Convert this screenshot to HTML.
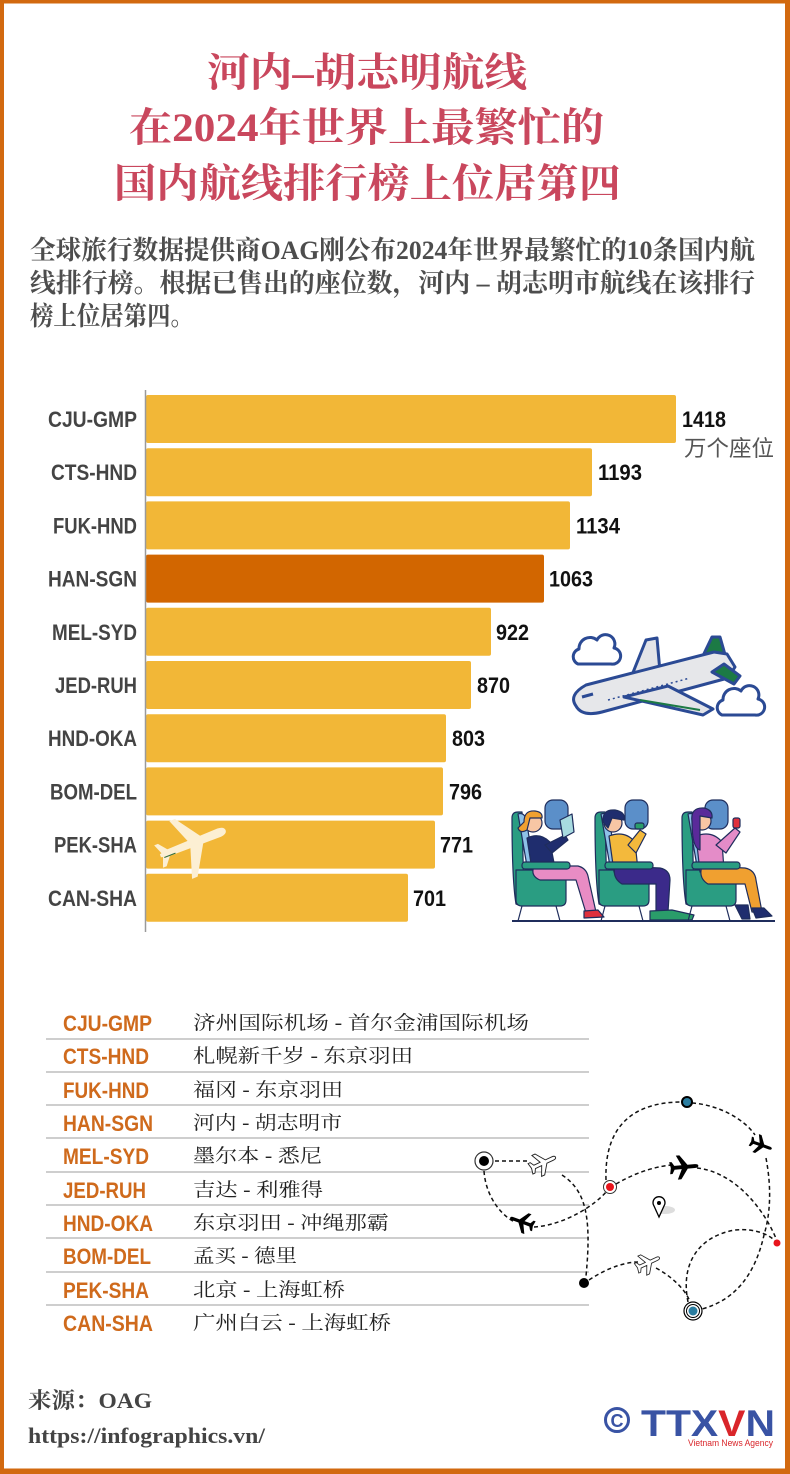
<!DOCTYPE html>
<html><head><meta charset="utf-8">
<style>
html,body{margin:0;padding:0;background:#fff;}
svg{display:block;}
</style></head>
<body>
<svg width="790" height="1474" viewBox="0 0 790 1474" xmlns="http://www.w3.org/2000/svg">
<defs>
  <path id="pl" d="M12,0 Q12,-1.6 9,-1.6 L3,-1.6 L-3,-10 L-6,-10 L-2,-1.6 L-8,-1.6 L-10,-5 L-12,-5 L-11,0 L-12,5 L-10,5 L-8,1.6 L-2,1.6 L-6,10 L-3,10 L3,1.6 L9,1.6 Q12,1.6 12,0 Z"/>
</defs>
<rect x="0" y="0" width="790" height="1474" fill="#fff"/>
<!-- border -->
<rect x="2" y="1.5" width="785" height="1469" fill="none" stroke="#d2690f" stroke-width="4"/>
<rect x="786" y="0" width="4" height="1474" fill="#d2690f"/>
<rect x="0" y="1469" width="790" height="5" fill="#d2690f"/>

<!-- Title -->
<g font-family="'Liberation Serif','Noto Serif CJK SC',serif" font-weight="bold" fill="#c9475d" font-size="40">
  <text x="207" y="86" textLength="320" lengthAdjust="spacingAndGlyphs">河内–胡志明航线</text>
  <text x="129" y="141" textLength="475" lengthAdjust="spacingAndGlyphs">在2024年世界上最繁忙的</text>
  <text x="114" y="197" textLength="507" lengthAdjust="spacingAndGlyphs">国内航线排行榜上位居第四</text>
</g>

<!-- Intro -->
<g font-family="'Liberation Serif','Noto Serif CJK SC',serif" font-weight="bold" fill="#4d4d4d" font-size="26">
  <text x="30" y="259" textLength="725" lengthAdjust="spacingAndGlyphs">全球旅行数据提供商OAG刚公布2024年世界最繁忙的10条国内航</text>
  <text x="30" y="292" textLength="725" lengthAdjust="spacingAndGlyphs">线排行榜。根据已售出的座位数，河内 – 胡志明市航线在该排行</text>
  <text x="30" y="325" textLength="164" lengthAdjust="spacingAndGlyphs">榜上位居第四。</text>
</g>

<!-- Bars -->
<g>
  <rect x="146" y="395" width="530" height="48" rx="2" fill="#f2b737"/>
  <rect x="146" y="448.2" width="446" height="48" rx="2" fill="#f2b737"/>
  <rect x="146" y="501.4" width="424" height="48" rx="2" fill="#f2b737"/>
  <rect x="146" y="554.6" width="398" height="48" rx="2" fill="#d26600"/>
  <rect x="146" y="607.8" width="345" height="48" rx="2" fill="#f2b737"/>
  <rect x="146" y="661" width="325" height="48" rx="2" fill="#f2b737"/>
  <rect x="146" y="714.2" width="300" height="48" rx="2" fill="#f2b737"/>
  <rect x="146" y="767.4" width="297" height="48" rx="2" fill="#f2b737"/>
  <rect x="146" y="820.6" width="289" height="48" rx="2" fill="#f2b737"/>
  <rect x="146" y="873.8" width="262" height="48" rx="2" fill="#f2b737"/>
</g>
<line x1="145.5" y1="390" x2="145.5" y2="932" stroke="#9a9a9a" stroke-width="1.5"/>

<!-- Bar labels -->
<g font-family="'Liberation Sans Narrow','Liberation Sans',sans-serif" font-weight="bold" fill="#444" font-size="22">
  <text x="48" y="427" textLength="89" lengthAdjust="spacingAndGlyphs">CJU-GMP</text>
  <text x="51" y="480.2" textLength="86" lengthAdjust="spacingAndGlyphs">CTS-HND</text>
  <text x="53" y="533.4" textLength="84" lengthAdjust="spacingAndGlyphs">FUK-HND</text>
  <text x="48" y="586.6" textLength="89" lengthAdjust="spacingAndGlyphs">HAN-SGN</text>
  <text x="52" y="639.8" textLength="85" lengthAdjust="spacingAndGlyphs">MEL-SYD</text>
  <text x="55" y="693" textLength="82" lengthAdjust="spacingAndGlyphs">JED-RUH</text>
  <text x="48" y="746.2" textLength="89" lengthAdjust="spacingAndGlyphs">HND-OKA</text>
  <text x="50" y="799.4" textLength="87" lengthAdjust="spacingAndGlyphs">BOM-DEL</text>
  <text x="54" y="852.6" textLength="83" lengthAdjust="spacingAndGlyphs">PEK-SHA</text>
  <text x="48" y="905.8" textLength="89" lengthAdjust="spacingAndGlyphs">CAN-SHA</text>
</g>

<!-- Values -->
<g font-family="'Liberation Sans Narrow','Liberation Sans',sans-serif" font-weight="bold" fill="#111" font-size="22">
  <text x="682" y="427" textLength="44" lengthAdjust="spacingAndGlyphs">1418</text>
  <text x="598" y="480.2" textLength="44" lengthAdjust="spacingAndGlyphs">1193</text>
  <text x="576" y="533.4" textLength="44" lengthAdjust="spacingAndGlyphs">1134</text>
  <text x="549" y="586.6" textLength="44" lengthAdjust="spacingAndGlyphs">1063</text>
  <text x="496" y="639.8" textLength="33" lengthAdjust="spacingAndGlyphs">922</text>
  <text x="477" y="693" textLength="33" lengthAdjust="spacingAndGlyphs">870</text>
  <text x="452" y="746.2" textLength="33" lengthAdjust="spacingAndGlyphs">803</text>
  <text x="449" y="799.4" textLength="33" lengthAdjust="spacingAndGlyphs">796</text>
  <text x="440" y="852.6" textLength="33" lengthAdjust="spacingAndGlyphs">771</text>
  <text x="413" y="905.8" textLength="33" lengthAdjust="spacingAndGlyphs">701</text>
</g>
<text x="684" y="456" font-family="'Liberation Sans','Noto Sans CJK SC',sans-serif" font-size="22" fill="#555" textLength="90" lengthAdjust="spacingAndGlyphs">万个座位</text>

<!-- cream plane on bar -->
<g transform="translate(193,843) rotate(-21.5)" fill="#fcefd3">
  <path d="M35,0 Q35,-4 28,-4.5 L-28,-3.5 L-35,-1.5 L-35,1.5 L-28,3.5 L28,4.5 Q35,4 35,0 Z"/>
  <path d="M10,-3 L-8,-29 L-14,-29 L-4,-3 Z"/>
  <path d="M10,3 L-8,33 L-14,33 L-4,3 Z"/>
  <path d="M-25,-2 L-33,-12 L-37,-12 L-33,-2 Z"/>
  <path d="M-25,2 L-33,12 L-37,12 L-33,2 Z"/>
  <line x1="-32" y1="3" x2="-20" y2="3" stroke="#2e6b3a" stroke-width="1"/>
</g>

<!-- Plane with clouds -->
<g stroke="#2b4a94" stroke-width="3" stroke-linejoin="round">
  <path d="M578,664 a8,8 0 0 1 1,-15 a11,11 0 0 1 18,-9 a9,9 0 0 1 17,8 a8,8 0 0 1 -3,16 Z" fill="#fff"/>
  <path d="M722,715 a8,8 0 0 1 1,-15 a11,11 0 0 1 18,-9 a9,9 0 0 1 17,8 a8,8 0 0 1 -3,16 Z" fill="#fff"/>
  <path d="M630,680 L646,640 L657,638 L660,672 Z" fill="#e3e4e8"/>
  <path d="M700,662 L712,637 L720,637 L726,658 Z" fill="#1c7a45"/>
  <path d="M576,706 Q568,695 586,685 L714,652 L727,654 L735,667 L728,678 L602,712 Q582,717 576,706 Z" fill="#e6e7ea"/>
  <path d="M712,672 L734,684 L740,676 L724,664 Z" fill="#1c7a45"/>
  <path d="M624,697 L703,715 L713,709 L668,686 Z" fill="#e3e4e8"/>
</g>
<path d="M640,700 L700,710" stroke="#1c7a45" stroke-width="2"/>
<g stroke="#2b4a94" stroke-width="1.5">
  <path d="M608,700 L690,678" stroke-dasharray="2 3"/>
  <path d="M582,697 L593,694" stroke-width="3"/>
</g>

<!-- Seated passengers -->
<g stroke="#1f2d5c" stroke-width="1.2" stroke-linejoin="round">
  <line x1="512" y1="921" x2="775" y2="921" stroke-width="2"/>
  <!-- windows -->
  <rect x="545" y="800" width="23" height="29" rx="8" fill="#5b8fc9"/>
  <rect x="625" y="800" width="23" height="29" rx="8" fill="#5b8fc9"/>
  <rect x="705" y="800" width="23" height="29" rx="8" fill="#5b8fc9"/>
  <!-- seat 1 -->
  <g>
    <path d="M512,818 Q512,812 518,812 L522,812 L524,900 L522,906 L516,904 Q512,880 512,818 Z" fill="#2a9d82"/>
    <path d="M518,814 Q523,812 526,818 L534,868 L528,872 Z" fill="#8ec1e8"/>
    <path d="M516,870 L560,870 Q566,870 566,878 L566,900 Q566,906 560,906 L522,906 Q516,906 516,900 Z" fill="#2a9d82"/>
    <line x1="522" y1="906" x2="518" y2="921"/><line x1="556" y1="906" x2="560" y2="921"/>
    <!-- person 1 -->
    <path d="M527,838 Q540,832 550,842 L555,868 L532,870 Z" fill="#1f2d6e"/>
    <path d="M545,845 L565,835 L568,840 L552,853 Z" fill="#1f2d6e"/>
    <path d="M534,866 L578,866 Q586,868 588,876 L596,912 L586,913 L576,880 L540,880 Q530,876 534,866 Z" fill="#e88cc4"/>
    <path d="M584,911 L598,910 L604,917 L584,918 Z" fill="#e0303c"/>
    <circle cx="533" cy="823" r="9" fill="#f7c6a4"/>
    <path d="M524,822 Q524,810 535,811 Q543,812 542,818 L530,818 L527,830 Q520,834 518,828 Z" fill="#f0a030"/>
    <path d="M560,820 L572,814 L574,832 L563,838 Z" fill="#a8dbe0"/>
    <rect x="522" y="862" width="48" height="7" rx="3" fill="#2a9d82"/>
  </g>
  <!-- seat 2 -->
  <g>
    <path d="M595,818 Q595,812 601,812 L605,812 L607,900 L605,906 L599,904 Q595,880 595,818 Z" fill="#2a9d82"/>
    <path d="M601,814 Q606,812 609,818 L617,868 L611,872 Z" fill="#8ec1e8"/>
    <path d="M599,870 L643,870 Q649,870 649,878 L649,900 Q649,906 643,906 L605,906 Q599,906 599,900 Z" fill="#2a9d82"/>
    <line x1="605" y1="906" x2="601" y2="921"/><line x1="639" y1="906" x2="643" y2="921"/>
    <path d="M609,836 Q625,830 635,842 L638,870 L614,872 Z" fill="#f3b93c"/>
    <path d="M628,845 L640,830 L646,834 L636,853 Z" fill="#f3b93c"/>
    <path d="M615,866 L660,868 Q670,870 670,880 L668,912 L656,912 L656,884 L622,884 Q612,878 615,866 Z" fill="#3b2a8a"/>
    <path d="M650,911 L672,910 L694,915 L692,920 L650,920 Z" fill="#2a9d6a"/>
    <circle cx="613" cy="823" r="9" fill="#f7c6a4"/>
    <path d="M603,822 Q602,809 615,810 Q626,812 624,820 L612,818 L608,828 Z" fill="#1f2d6e"/>
    <rect x="635" y="823" width="9" height="6" rx="2" fill="#2a9d6a"/>
    <rect x="605" y="862" width="48" height="7" rx="3" fill="#2a9d82"/>
  </g>
  <!-- seat 3 -->
  <g>
    <path d="M682,818 Q682,812 688,812 L692,812 L694,900 L692,906 L686,904 Q682,880 682,818 Z" fill="#2a9d82"/>
    <path d="M688,814 Q693,812 696,818 L704,868 L698,872 Z" fill="#8ec1e8"/>
    <path d="M686,870 L730,870 Q736,870 736,878 L736,900 Q736,906 730,906 L692,906 Q686,906 686,900 Z" fill="#2a9d82"/>
    <line x1="692" y1="906" x2="688" y2="921"/><line x1="726" y1="906" x2="730" y2="921"/>
    <path d="M696,836 Q712,830 722,842 L724,870 L700,872 Z" fill="#e48cc8"/>
    <path d="M716,845 L735,828 L740,832 L726,853 Z" fill="#e48cc8"/>
    <path d="M702,866 L745,868 Q755,870 756,880 L762,912 L752,912 L745,884 L708,884 Q698,878 702,866 Z" fill="#f0a030"/>
    <path d="M735,905 L748,905 L750,919 L742,919 Z" fill="#1f2d6e"/>
    <path d="M752,908 L764,908 L772,916 L756,918 Z" fill="#1f2d6e"/>
    <circle cx="702" cy="821" r="9" fill="#f7c6a4"/>
    <path d="M692,822 Q690,807 704,808 Q713,810 712,818 L700,816 L700,850 Q692,848 692,822 Z" fill="#5a2a9a"/>
    <rect x="733" y="818" width="7" height="10" rx="2" fill="#e0303c"/>
    <rect x="692" y="862" width="48" height="7" rx="3" fill="#2a9d82"/>
  </g>
</g>

<!-- Legend table -->
<g stroke="#bdbdbd" stroke-width="1.5">
  <line x1="46" y1="1039" x2="589" y2="1039"/>
  <line x1="46" y1="1072" x2="589" y2="1072"/>
  <line x1="46" y1="1105" x2="589" y2="1105"/>
  <line x1="46" y1="1138" x2="589" y2="1138"/>
  <line x1="46" y1="1172" x2="589" y2="1172"/>
  <line x1="46" y1="1205" x2="589" y2="1205"/>
  <line x1="46" y1="1238" x2="589" y2="1238"/>
  <line x1="46" y1="1272" x2="589" y2="1272"/>
  <line x1="46" y1="1305" x2="589" y2="1305"/>
</g>
<g font-family="'Liberation Sans Narrow','Liberation Sans',sans-serif" font-weight="bold" fill="#cf6a1c" font-size="22">
  <text x="63" y="1031" textLength="89" lengthAdjust="spacingAndGlyphs">CJU-GMP</text>
  <text x="63" y="1064" textLength="86" lengthAdjust="spacingAndGlyphs">CTS-HND</text>
  <text x="63" y="1098" textLength="86" lengthAdjust="spacingAndGlyphs">FUK-HND</text>
  <text x="63" y="1131" textLength="90" lengthAdjust="spacingAndGlyphs">HAN-SGN</text>
  <text x="63" y="1164" textLength="86" lengthAdjust="spacingAndGlyphs">MEL-SYD</text>
  <text x="63" y="1198" textLength="83" lengthAdjust="spacingAndGlyphs">JED-RUH</text>
  <text x="63" y="1231" textLength="90" lengthAdjust="spacingAndGlyphs">HND-OKA</text>
  <text x="63" y="1264" textLength="88" lengthAdjust="spacingAndGlyphs">BOM-DEL</text>
  <text x="63" y="1298" textLength="86" lengthAdjust="spacingAndGlyphs">PEK-SHA</text>
  <text x="63" y="1331" textLength="90" lengthAdjust="spacingAndGlyphs">CAN-SHA</text>
</g>
<g font-family="'Liberation Serif','Noto Serif CJK SC',serif" fill="#222" font-size="19">
  <text x="193" y="1029" textLength="336" lengthAdjust="spacingAndGlyphs">济州国际机场 - 首尔金浦国际机场</text>
  <text x="193" y="1062" textLength="220" lengthAdjust="spacingAndGlyphs">札幌新千岁 - 东京羽田</text>
  <text x="193" y="1096" textLength="150" lengthAdjust="spacingAndGlyphs">福冈 - 东京羽田</text>
  <text x="193" y="1129" textLength="149" lengthAdjust="spacingAndGlyphs">河内 - 胡志明市</text>
  <text x="193" y="1162" textLength="129" lengthAdjust="spacingAndGlyphs">墨尔本 - 悉尼</text>
  <text x="193" y="1196" textLength="130" lengthAdjust="spacingAndGlyphs">吉达 - 利雅得</text>
  <text x="193" y="1229" textLength="196" lengthAdjust="spacingAndGlyphs">东京羽田 - 冲绳那霸</text>
  <text x="193" y="1262" textLength="104" lengthAdjust="spacingAndGlyphs">孟买 - 德里</text>
  <text x="193" y="1296" textLength="152" lengthAdjust="spacingAndGlyphs">北京 - 上海虹桥</text>
  <text x="193" y="1329" textLength="198" lengthAdjust="spacingAndGlyphs">广州白云 - 上海虹桥</text>
</g>

<!-- Flight paths -->
<g fill="none" stroke="#111" stroke-width="1.5" stroke-dasharray="4 3">
  <path d="M495,1161 L528,1161"/>
  <path d="M484,1171 C486,1200 505,1218 515,1222"/>
  <path d="M534,1227 C565,1225 595,1205 606,1192"/>
  <path d="M562,1175 C585,1190 592,1215 586,1276"/>
  <path d="M606,1180 C604,1120 640,1102 682,1102"/>
  <path d="M692,1103 C720,1105 745,1120 755,1135"/>
  <path d="M766,1158 C772,1190 770,1215 764,1235 C755,1275 735,1300 702,1309"/>
  <path d="M616,1184 C640,1170 660,1166 672,1165"/>
  <path d="M697,1168 C735,1172 765,1210 777,1241"/>
  <path d="M589,1280 C610,1266 628,1262 638,1262"/>
  <path d="M656,1268 C678,1280 688,1295 690,1302"/>
  <path d="M688,1302 C680,1262 700,1236 735,1230 C755,1228 770,1235 775,1241"/>
</g>
<circle cx="484" cy="1161" r="9" fill="#fff" stroke="#333" stroke-width="1.2"/>
<circle cx="484" cy="1161" r="5" fill="#000"/>
<circle cx="610" cy="1187" r="6.5" fill="#fff" stroke="#333" stroke-width="1"/>
<circle cx="610" cy="1187" r="4" fill="#e8141c"/>
<circle cx="687" cy="1102" r="5" fill="#2a7da0" stroke="#000" stroke-width="2"/>
<circle cx="777" cy="1243" r="3.5" fill="#e8141c"/>
<circle cx="584" cy="1283" r="5" fill="#000"/>
<circle cx="693" cy="1311" r="9" fill="#fff" stroke="#000" stroke-width="1.2"/>
<circle cx="693" cy="1311" r="6.5" fill="#fff" stroke="#000" stroke-width="1"/>
<circle cx="693" cy="1311" r="4.5" fill="#2a7da0"/>
<ellipse cx="665" cy="1210" rx="10" ry="4" fill="#ddd"/>
<path d="M659,1217 L654,1206 A6,6 0 1 1 664,1206 Z" fill="#fff" stroke="#000" stroke-width="1.3"/>
<circle cx="659" cy="1203" r="2" fill="#000"/>
<use href="#pl" transform="translate(543,1163) rotate(-25) scale(1.15)" fill="#fff" stroke="#222" stroke-width="0.8"/>
<use href="#pl" transform="translate(522,1222) rotate(200) scale(1.05)" fill="#000"/>
<use href="#pl" transform="translate(684,1167) rotate(-5) scale(1.2)" fill="#000"/>
<use href="#pl" transform="translate(761,1145) rotate(20) scale(0.95)" fill="#000"/>
<use href="#pl" transform="translate(648,1263) rotate(-25) scale(1.05)" fill="#fff" stroke="#222" stroke-width="0.8"/>

<!-- Footer -->
<g font-family="'Liberation Serif','Noto Serif CJK SC',serif" font-weight="bold" fill="#444" font-size="22">
  <text x="28" y="1408" textLength="124" lengthAdjust="spacingAndGlyphs">来源：OAG</text>
  <text x="28" y="1443" textLength="237" lengthAdjust="spacingAndGlyphs">https://infographics.vn/</text>
</g>
<!-- TTXVN logo -->
<circle cx="617" cy="1420" r="11.5" fill="none" stroke="#3953a4" stroke-width="3"/>
<text x="617" y="1427" text-anchor="middle" font-family="'Liberation Sans',sans-serif" font-weight="bold" font-size="18" fill="#3953a4">C</text>
<text x="641" y="1436" font-family="'Liberation Sans',sans-serif" font-weight="bold" font-size="37" fill="#3953a4" textLength="134" lengthAdjust="spacingAndGlyphs">TTX<tspan fill="#d9252a">V</tspan>N</text>
<text x="688" y="1446" font-family="'Liberation Sans',sans-serif" font-size="9" fill="#d9252a" textLength="85" lengthAdjust="spacingAndGlyphs">Vietnam News Agency</text>
</svg>
</body></html>
